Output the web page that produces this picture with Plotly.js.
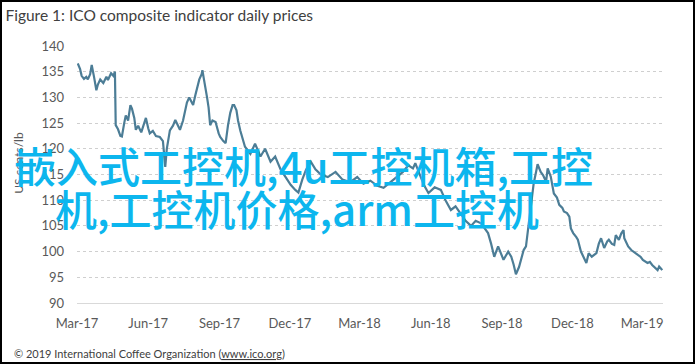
<!DOCTYPE html>
<html>
<head>
<meta charset="utf-8">
<script src="https://cdn.plot.ly/plotly-3.0.1.min.js"></script>
<style>
html,body{margin:0;padding:0;background:#fff;}
#wrap{width:695px;height:364px;box-sizing:border-box;border:2px solid #000;background:#fff;}
#chart{width:691px;height:360px;}
</style>
</head>
<body>
<div id="wrap"><div id="chart"></div></div>
<script>
const chartTitle = "Figure 1: ICO composite indicator daily prices";
const yTitle = "US cents/lb";
const footer = "© 2019 International Coffee Organization (<u>www.ico.org</u>)";
const overlayLines = ["嵌入式工控机,4u工控机箱,工控", "机,工控机价格,arm工控机"];
const tickDates = ["2017-03-01","2017-06-01","2017-09-01","2017-12-01","2018-03-01","2018-06-01","2018-09-01","2018-12-01","2019-03-01"];
const tickLabels = ["Mar-17","Jun-17","Sep-17","Dec-17","Mar-18","Jun-18","Sep-18","Dec-18","Mar-19"];

const dates = [
"2017-03-02","2017-03-05","2017-03-07","2017-03-10","2017-03-13","2017-03-15","2017-03-18","2017-03-20","2017-03-23","2017-03-26",
"2017-03-28","2017-03-31","2017-04-04","2017-04-08","2017-04-10","2017-04-14","2017-04-17","2017-04-19","2017-04-20","2017-04-23",
"2017-04-26","2017-04-28","2017-05-01","2017-05-03","2017-05-06","2017-05-09","2017-05-11","2017-05-14","2017-05-16","2017-05-19",
"2017-05-23","2017-05-27","2017-05-29","2017-06-01","2017-06-03","2017-06-07","2017-06-11","2017-06-16","2017-06-20","2017-06-23",
"2017-06-25","2017-06-29","2017-07-03","2017-07-06","2017-07-10","2017-07-12","2017-07-16","2017-07-19","2017-07-21","2017-07-24",
"2017-07-27","2017-07-29","2017-08-01","2017-08-03","2017-08-06","2017-08-09","2017-08-10","2017-08-12","2017-08-14","2017-08-16",
"2017-08-18","2017-08-20","2017-08-23","2017-08-27","2017-08-31","2017-09-02","2017-09-06","2017-09-09","2017-09-12","2017-09-15",
"2017-09-18","2017-09-20","2017-09-23","2017-09-25","2017-09-28","2017-10-02","2017-10-04","2017-10-11","2017-10-17","2017-10-24",
"2017-10-30","2017-11-06","2017-11-12","2017-11-19","2017-11-25","2017-12-02","2017-12-08","2017-12-12","2017-12-17","2017-12-22",
"2017-12-28","2018-01-03","2018-01-10","2018-01-19","2018-01-29","2018-02-07","2018-02-17","2018-02-26","2018-03-06","2018-03-15",
"2018-03-24","2018-04-01","2018-04-10","2018-04-19","2018-04-26","2018-05-03","2018-05-09","2018-05-12","2018-05-18","2018-05-23",
"2018-05-29","2018-06-06","2018-06-14","2018-06-20","2018-06-27","2018-07-03","2018-07-10","2018-07-16","2018-07-23","2018-07-29",
"2018-08-05","2018-08-10","2018-08-14","2018-08-18","2018-08-22","2018-08-27","2018-08-31","2018-09-03","2018-09-09","2018-09-13",
"2018-09-16","2018-09-19","2018-09-23","2018-09-25","2018-09-29","2018-10-02","2018-10-04","2018-10-08","2018-10-12","2018-10-15",
"2018-10-17","2018-10-21","2018-10-24","2018-10-28","2018-10-30","2018-11-03","2018-11-07","2018-11-11","2018-11-14","2018-11-18",
"2018-11-20","2018-11-24","2018-11-27","2018-11-29","2018-12-02","2018-12-06","2018-12-08","2018-12-12","2018-12-15","2018-12-19",
"2018-12-22","2018-12-26","2019-01-01","2019-01-04","2019-01-07","2019-01-11","2019-01-15","2019-01-17","2019-01-21","2019-01-24",
"2019-01-26","2019-01-30","2019-02-02","2019-02-05","2019-02-06","2019-02-08","2019-02-11","2019-02-15","2019-02-19","2019-02-24",
"2019-02-27","2019-03-02","2019-03-08","2019-03-11","2019-03-14","2019-03-18","2019-03-21","2019-03-23","2019-03-27"
];
const prices = [
136.6,135.5,134.2,133.6,134.0,133.5,134.5,136.3,134.0,131.4,
132.5,133.5,132.8,134.0,133.4,134.7,134.2,135.0,124.6,123.8,
122.5,122.4,125.0,126.5,125.5,128.5,127.8,126.0,123.7,124.5,
123.2,125.0,126.0,124.0,123.0,123.5,122.5,122.3,121.5,116.5,
120.0,123.6,124.5,125.6,124.5,123.7,125.5,127.5,129.0,130.0,
129.0,128.5,130.5,131.8,133.5,134.5,135.3,133.5,132.0,130.0,
128.0,124.6,125.5,125.2,123.0,122.3,121.5,121.1,124.5,127.0,
128.5,128.5,127.5,125.5,123.5,121.5,120.4,119.0,121.0,118.5,
120.0,117.5,118.5,116.0,114.5,113.0,112.0,111.5,114.0,116.0,
117.5,116.0,115.0,114.5,115.5,114.0,113.5,114.5,113.2,113.8,
112.8,112.4,113.5,114.6,115.5,116.8,116.2,117.2,115.0,113.0,
111.4,112.5,112.0,110.0,108.1,108.8,107.3,106.0,105.0,106.0,
105.5,104.5,103.6,101.5,99.0,101.0,99.5,98.4,100.0,99.0,
97.5,95.6,97.0,98.0,100.3,101.0,103.6,109.0,113.3,115.5,
117.0,115.5,114.9,113.6,116.2,114.6,111.3,110.5,109.1,108.5,
107.8,107.5,106.8,104.5,103.6,102.8,102.3,100.0,99.0,97.8,
99.7,99.0,99.7,101.5,102.6,100.7,102.0,102.3,101.5,101.3,
103.2,102.3,103.5,104.2,102.6,101.8,101.0,100.3,99.8,99.3,
99.0,98.4,97.8,98.0,97.4,96.8,96.4,97.1,96.4
];

const labelFont = {family: "Lato, 'Open Sans', sans-serif", size: 13, color: "#595959"};
const cjkFont = {family: "'Noto Sans CJK SC', sans-serif", size: 42, color: "#0cb6ee", weight: 500};

const trace = {
  type: "scatter", mode: "lines",
  x: dates, y: prices,
  line: {color: "#4c7d96", width: 2.2},
  hoverinfo: "skip", showlegend: false
};

const layout = {
  width: 691, height: 360,
  margin: {l: 75, r: 30, t: 44, b: 59},
  paper_bgcolor: "#fff", plot_bgcolor: "#fff",
  title: {
    text: chartTitle, x: 0.005, xref: "container", xanchor: "left",
    y: 0.962, yref: "container", yanchor: "middle",
    font: {family: "Lato, 'Open Sans', sans-serif", size: 15.5, color: "#404040"}
  },
  xaxis: {
    type: "date", range: ["2017-03-01", "2019-03-28"],
    tickvals: tickDates, ticktext: tickLabels,
    showgrid: false, zeroline: false,
    showline: true, linecolor: "#d9d9d9", linewidth: 1,
    ticks: "", ticklabelstandoff: 8,
    tickfont: labelFont, fixedrange: true
  },
  yaxis: {
    range: [90, 140], dtick: 5, tick0: 90,
    showgrid: true, gridcolor: "#cfcfcf", griddash: "dot", gridwidth: 1,
    zeroline: false, showline: false,
    ticks: "", ticklabelstandoff: 12,
    tickfont: labelFont, fixedrange: true
  },
  annotations: [
    {text: yTitle, xref: "paper", yref: "paper", x: -0.1, y: 0.547,
     xanchor: "center", yanchor: "middle", textangle: -90, showarrow: false,
     font: {family: "Lato, 'Open Sans', sans-serif", size: 12, color: "#595959"}},
    {text: footer, xref: "paper", yref: "paper", x: -0.111, y: -0.195,
     xanchor: "left", yanchor: "middle", showarrow: false,
     font: {family: "Lato, 'Open Sans', sans-serif", size: 11, color: "#404040"}},
    {text: overlayLines[0], xref: "paper", yref: "paper", x: 0.3865, y: 0.537,
     xanchor: "center", yanchor: "middle", showarrow: false, font: cjkFont},
    {text: overlayLines[1], xref: "paper", yref: "paper", x: 0.376, y: 0.3735,
     xanchor: "center", yanchor: "middle", showarrow: false, font: cjkFont}
  ]
};

Plotly.newPlot("chart", [trace], layout, {displayModeBar: false, staticPlot: true});
</script>
</body>
</html>
